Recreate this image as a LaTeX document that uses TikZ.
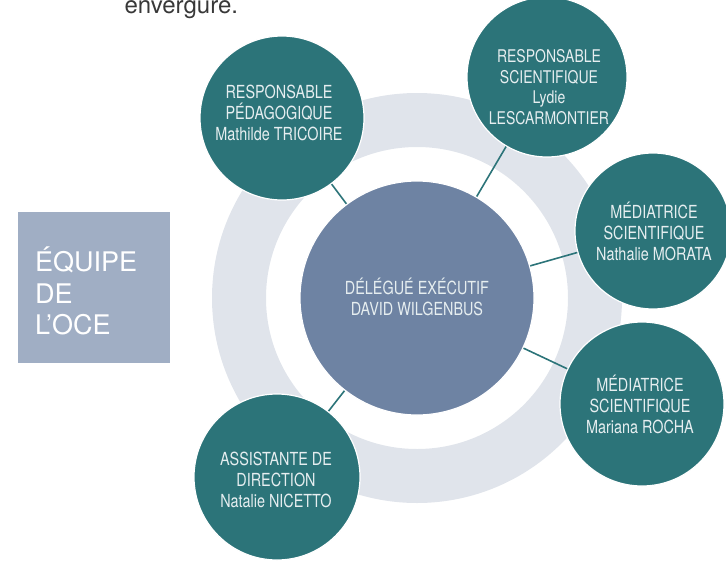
\documentclass[tikz,border=0pt]{standalone}
\usepackage{fontspec}
\setmainfont{TeX Gyre Heros}
\newfontfamily\narrowfont{TeX Gyre Heros}[FakeStretch=0.8]
\usetikzlibrary{positioning}

\definecolor{tealc}{HTML}{2C7479}
\definecolor{chiefc}{HTML}{6E83A3}
\definecolor{boxc}{HTML}{A0AEC4}
\definecolor{ringc}{HTML}{E0E4EB}
\definecolor{lightc}{HTML}{E6EEF0}

\begin{document}
\begin{tikzpicture}[x=1pt,y=-1pt,
  member/.style={circle,fill=tealc,draw=white,line width=1.2pt,minimum size=#1,inner sep=0pt},
  chief/.style={circle,fill=chiefc,draw=white,line width=1.2pt,minimum size=234pt,inner sep=0pt},
  whotext/.style={align=center,text=lightc,font=\narrowfont\fontsize{18}{21}\selectfont},
  link/.style={draw=tealc,line width=1.6pt}]
\useasboundingbox (0,0) rectangle (726,560);

\node[anchor=base west,text=black!78,font=\fontsize{24}{28}\selectfont] (prev) at (121,13) {envergure.};

% ring behind the chief
\fill[ringc,even odd rule] (417,298) circle (205pt) circle (151pt);

% team box
\fill[boxc] (18,212) rectangle (170,363);
\node[anchor=north west,align=left,text=white,inner sep=0pt,font=\fontsize{27}{31.5}\selectfont] (team) at (35,247) {ÉQUIPE\\DE\\L'OCE};

\coordinate (C) at (417,298);
\coordinate (P1) at (282,118);
\coordinate (P2) at (547,77);
\coordinate (P3) at (653,231);
\coordinate (P4) at (642,404);
\coordinate (P5) at (277,477);

\draw[link] (C) -- (P1);
\draw[link] (C) -- (P2);
\draw[link] (C) -- (P3);
\draw[link] (C) -- (P4);
\draw[link] (C) -- (P5);

\node[chief] (dwil) at (C) {};
\node[member=164pt] (mtri) at (P1) {};
\node[member=160pt] (lles) at (P2) {};
\node[member=156pt] (nmor) at (P3) {};
\node[member=164pt] (mroc) at (P4) {};
\node[member=166pt] (nnic) at (P5) {};

\node[whotext] (dwilt) at ([yshift=1pt]dwil.center) {DÉLÉGUÉ EXÉCUTIF\\DAVID WILGENBUS};
\node[whotext] (mtrit) at ([xshift=-3pt,yshift=5pt]mtri.center) {RESPONSABLE\\PÉDAGOGIQUE\\Mathilde TRICOIRE};
\node[whotext,font=\narrowfont\fontsize{17.5}{20.5}\selectfont] (llest) at ([xshift=2pt,yshift=-10pt]lles.center) {RESPONSABLE\\SCIENTIFIQUE\\Lydie\\LESCARMONTIER};
\node[whotext] (nmort) at ([xshift=1pt]nmor.center) {MÉDIATRICE\\SCIENTIFIQUE\\Nathalie MORATA};
\node[whotext] (mroct) at ([xshift=-2pt]mroc.center) {MÉDIATRICE\\SCIENTIFIQUE\\Mariana ROCHA};
\node[whotext] (nnict) at ([xshift=-1pt,yshift=-3pt]nnic.center) {ASSISTANTE DE\\DIRECTION\\Natalie NICETTO};

\end{tikzpicture}
\end{document}
